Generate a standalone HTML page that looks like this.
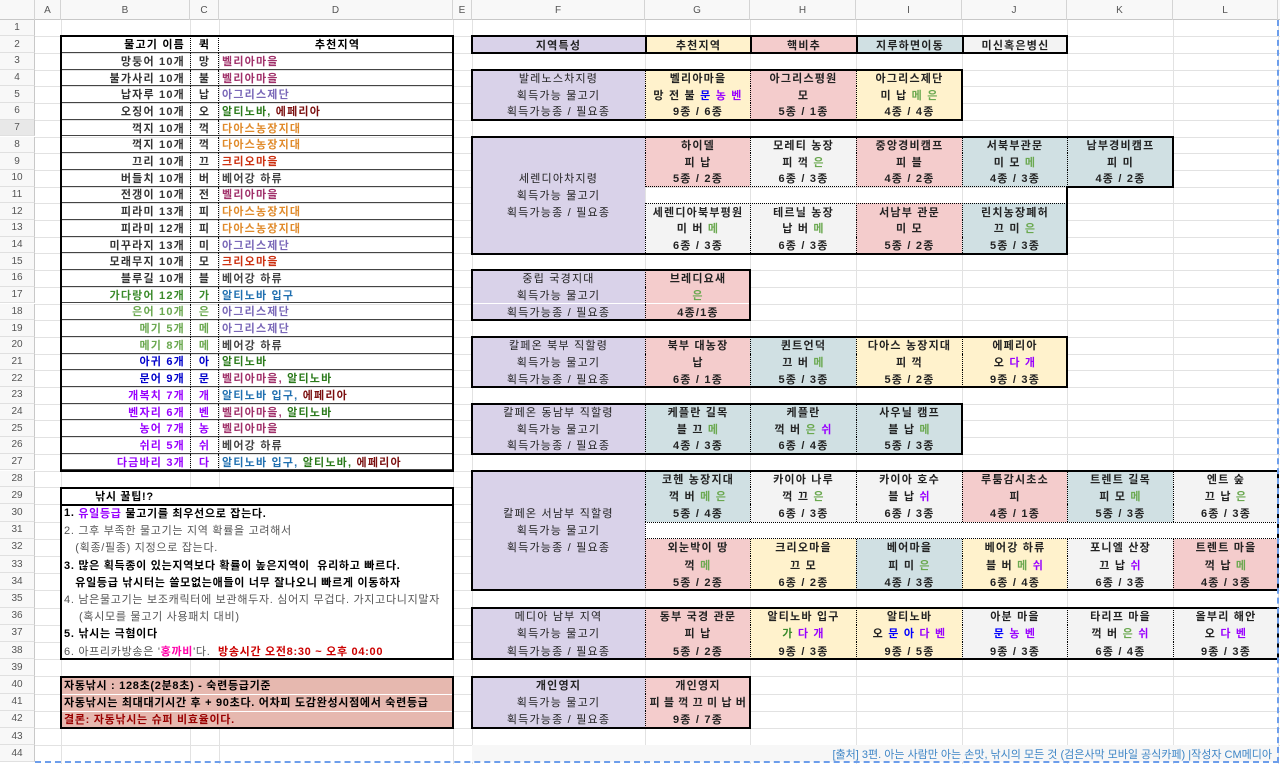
<!DOCTYPE html>
<html><head><meta charset="utf-8">
<style>
*{box-sizing:border-box;margin:0;padding:0}
body{width:1280px;height:764px;position:relative;background:#fff;overflow:hidden;font-family:"Liberation Sans","Noto Sans CJK KR",sans-serif;font-size:11px;color:#222}
div{position:absolute}
.h{left:0;top:0;width:1280px;height:20px;background:#f8f8f8;border-bottom:1px solid #c8c8c8}
.hl{top:0;height:20px;font-size:10px;color:#555;display:flex;align-items:center;justify-content:center;border-right:1px solid #d4d4d4}
.rn{left:0;width:35px;font-size:10px;color:#555;background:#f8f8f8;display:flex;align-items:center;justify-content:center;border-right:1px solid #c8c8c8;border-bottom:1px solid #e0e0e0}
.gh{left:35px;width:1245px;height:1px;background:#e2e2e2}
.gv{top:20px;width:1px;height:744px;background:#e2e2e2}
.c{display:flex;align-items:center;justify-content:center;white-space:nowrap;font-weight:bold;letter-spacing:1.2px}
.r1{top:19.6px;height:16.7px}.r2{top:36.3px;height:16.7px}.r3{top:53px;height:16.7px}.r4{top:69.7px;height:16.7px}.r5{top:86.4px;height:16.7px}.r6{top:103.1px;height:16.7px}.r7{top:119.8px;height:16.7px}.r8{top:136.5px;height:16.7px}.r9{top:153.2px;height:16.7px}.r10{top:169.9px;height:16.7px}.r11{top:186.6px;height:16.7px}.r12{top:203.3px;height:16.7px}.r13{top:220px;height:16.7px}.r14{top:236.7px;height:16.7px}.r15{top:253.4px;height:16.7px}.r16{top:270.1px;height:16.7px}.r17{top:286.8px;height:16.7px}.r18{top:303.5px;height:16.7px}.r19{top:320.2px;height:16.7px}.r20{top:336.9px;height:16.7px}.r21{top:353.6px;height:16.7px}.r22{top:370.3px;height:16.7px}.r23{top:387px;height:16.7px}.r24{top:403.7px;height:16.7px}.r25{top:420.4px;height:16.7px}.r26{top:437.1px;height:16.7px}.r27{top:453.8px;height:16.7px}.r28{top:470.5px;height:16.7px}
.r29{top:487.2px;height:17.2px}.r30{top:504.4px;height:17.2px}.r31{top:521.6px;height:17.2px}.r32{top:538.8px;height:17.2px}.r33{top:556px;height:17.2px}.r34{top:573.2px;height:17.2px}.r35{top:590.4px;height:17.2px}.r36{top:607.6px;height:17.2px}.r37{top:624.8px;height:17.2px}.r38{top:642px;height:17.2px}.r39{top:659.2px;height:17.2px}.r40{top:676.4px;height:17.2px}.r41{top:693.6px;height:17.2px}.r42{top:710.8px;height:17.2px}.r43{top:728px;height:17.2px}.r44{top:745.2px;height:17.2px}
.cB{left:61px;width:129px;justify-content:flex-end;padding-right:5px;border-bottom:1px solid #444;color:#333}
.cC{left:190px;width:29px;border-left:1px dotted #000;border-right:1px dotted #000;border-bottom:1px solid #444;color:#333}
.cD{left:219px;width:234px;justify-content:flex-start;padding-left:3px;border-bottom:1px solid #444}
.cF{left:472px;width:173px;background:#d9d2e9;font-weight:normal;color:#222}
.cG{left:645px;width:105px}.cH{left:750px;width:106px}.cI{left:856px;width:106px}.cJ{left:962px;width:105px}.cK{left:1067px;width:106px}.cL{left:1173px;width:105px}
.cG,.cH,.cI,.cJ,.cK,.cL{border-left:1px dotted #000}
.y{background:#fff2cc}.pk{background:#f4cccc}.bl{background:#d0e0e3}.gr{background:#f3f3f3}.w{background:#fff}
.bx{border:2px solid #000}
.g{color:#6aa84f}.p{color:#9900ff}.b{color:#0000ff}
.vb{color:#a0306a}.ag{color:#7a68b8}.al{color:#2a7a1a}.ep{color:#7a0e0e}.da{color:#e08a2a}.kr{color:#cc3010}.be{color:#444}.ai{color:#1f6fb0}
.gf{color:#3a8a2a}.gg{color:#6aa84f}.bb{color:#0000cc}.pp{color:#9900ff}
.t{left:64px;width:388px;display:flex;align-items:center;white-space:nowrap;font-size:11px;letter-spacing:0.7px}
.tb{font-weight:bold;color:#000}.tn{color:#555}
</style></head><body>
<div class="h"></div>
<div class="hl" style="left:0;width:35px"></div>
<div class="hl" style="left:35px;width:26px">A</div>
<div class="hl" style="left:61px;width:129px">B</div>
<div class="hl" style="left:190px;width:29px">C</div>
<div class="hl" style="left:219px;width:234px">D</div>
<div class="hl" style="left:453px;width:19px">E</div>
<div class="hl" style="left:472px;width:173px">F</div>
<div class="hl" style="left:645px;width:105px">G</div>
<div class="hl" style="left:750px;width:106px">H</div>
<div class="hl" style="left:856px;width:106px">I</div>
<div class="hl" style="left:962px;width:105px">J</div>
<div class="hl" style="left:1067px;width:106px">K</div>
<div class="hl" style="left:1173px;width:105px">L</div>
<div class="gv" style="left:61px"></div><div class="gv" style="left:190px"></div><div class="gv" style="left:219px"></div><div class="gv" style="left:453px"></div><div class="gv" style="left:472px"></div><div class="gv" style="left:645px"></div><div class="gv" style="left:750px"></div><div class="gv" style="left:856px"></div><div class="gv" style="left:962px"></div><div class="gv" style="left:1067px"></div><div class="gv" style="left:1173px"></div><div class="gv" style="left:1278px"></div>
<div class="gh" style="top:36.3px"></div><div class="gh" style="top:53px"></div><div class="gh" style="top:69.7px"></div><div class="gh" style="top:86.4px"></div><div class="gh" style="top:103.1px"></div><div class="gh" style="top:119.8px"></div><div class="gh" style="top:136.5px"></div><div class="gh" style="top:153.2px"></div><div class="gh" style="top:169.9px"></div><div class="gh" style="top:186.6px"></div><div class="gh" style="top:203.3px"></div><div class="gh" style="top:220px"></div><div class="gh" style="top:236.7px"></div><div class="gh" style="top:253.4px"></div><div class="gh" style="top:270.1px"></div><div class="gh" style="top:286.8px"></div><div class="gh" style="top:303.5px"></div><div class="gh" style="top:320.2px"></div><div class="gh" style="top:336.9px"></div><div class="gh" style="top:353.6px"></div><div class="gh" style="top:370.3px"></div><div class="gh" style="top:387px"></div><div class="gh" style="top:403.7px"></div><div class="gh" style="top:420.4px"></div><div class="gh" style="top:437.1px"></div><div class="gh" style="top:453.8px"></div><div class="gh" style="top:470.5px"></div><div class="gh" style="top:487.2px"></div><div class="gh" style="top:504.4px"></div><div class="gh" style="top:521.6px"></div><div class="gh" style="top:538.8px"></div><div class="gh" style="top:556px"></div><div class="gh" style="top:573.2px"></div><div class="gh" style="top:590.4px"></div><div class="gh" style="top:607.6px"></div><div class="gh" style="top:624.8px"></div><div class="gh" style="top:642px"></div><div class="gh" style="top:659.2px"></div><div class="gh" style="top:676.4px"></div><div class="gh" style="top:693.6px"></div><div class="gh" style="top:710.8px"></div><div class="gh" style="top:728px"></div><div class="gh" style="top:745.2px"></div>
<div class="rn r1">1</div><div class="rn r2">2</div><div class="rn r3">3</div><div class="rn r4">4</div><div class="rn r5">5</div><div class="rn r6">6</div><div class="rn r7" style="background:#e8e8e8">7</div><div class="rn r8">8</div><div class="rn r9">9</div><div class="rn r10">10</div><div class="rn r11">11</div><div class="rn r12">12</div><div class="rn r13">13</div><div class="rn r14">14</div><div class="rn r15">15</div><div class="rn r16">16</div><div class="rn r17">17</div><div class="rn r18">18</div><div class="rn r19">19</div><div class="rn r20">20</div><div class="rn r21">21</div><div class="rn r22">22</div><div class="rn r23">23</div><div class="rn r24">24</div><div class="rn r25">25</div><div class="rn r26">26</div><div class="rn r27">27</div><div class="rn r28">28</div><div class="rn r29">29</div><div class="rn r30">30</div><div class="rn r31">31</div><div class="rn r32">32</div><div class="rn r33">33</div><div class="rn r34">34</div><div class="rn r35">35</div><div class="rn r36">36</div><div class="rn r37">37</div><div class="rn r38">38</div><div class="rn r39">39</div><div class="rn r40">40</div><div class="rn r41">41</div><div class="rn r42">42</div><div class="rn r43">43</div><div class="rn r44">44</div>

<div class="c r2" style="left:61px;width:392px;background:#fff;border-bottom:1px solid #444"></div>
<div class="c cB r2" style="color:#000">물고기 이름</div><div class="c cC r2" style="color:#000">퀵</div><div class="c cD r2" style="justify-content:center;color:#000">추천지역</div>
<div class="c cB r3">망둥어 10개</div><div class="c cC r3">망</div><div class="c cD r3 vb">벨리아마을</div>
<div class="c cB r4">불가사리 10개</div><div class="c cC r4">불</div><div class="c cD r4 vb">벨리아마을</div>
<div class="c cB r5">납자루 10개</div><div class="c cC r5">납</div><div class="c cD r5 ag">아그리스제단</div>
<div class="c cB r6">오징어 10개</div><div class="c cC r6">오</div><div class="c cD r6"><span class="al">알티노바,&nbsp;</span><span class="ep">에페리아</span></div>
<div class="c cB r7">꺽지 10개</div><div class="c cC r7">꺽</div><div class="c cD r7 da">다아스농장지대</div>
<div class="c cB r8">꺽지 10개</div><div class="c cC r8">꺽</div><div class="c cD r8 da">다아스농장지대</div>
<div class="c cB r9">끄리 10개</div><div class="c cC r9">끄</div><div class="c cD r9 kr">크리오마을</div>
<div class="c cB r10">버들치 10개</div><div class="c cC r10">버</div><div class="c cD r10 be">베어강 하류</div>
<div class="c cB r11">전갱이 10개</div><div class="c cC r11">전</div><div class="c cD r11 vb">벨리아마을</div>
<div class="c cB r12">피라미 13개</div><div class="c cC r12">피</div><div class="c cD r12 da">다아스농장지대</div>
<div class="c cB r13">피라미 12개</div><div class="c cC r13">피</div><div class="c cD r13 da">다아스농장지대</div>
<div class="c cB r14">미꾸라지 13개</div><div class="c cC r14">미</div><div class="c cD r14 ag">아그리스제단</div>
<div class="c cB r15">모래무지 10개</div><div class="c cC r15">모</div><div class="c cD r15 kr">크리오마을</div>
<div class="c cB r16">블루길 10개</div><div class="c cC r16">블</div><div class="c cD r16 be">베어강 하류</div>
<div class="c cB r17 gf">가다랑어 12개</div><div class="c cC r17 gf">가</div><div class="c cD r17 ai">알티노바 입구</div>
<div class="c cB r18 gg">은어 10개</div><div class="c cC r18 gg">은</div><div class="c cD r18 ag">아그리스제단</div>
<div class="c cB r19 gg">메기 5개</div><div class="c cC r19 gg">메</div><div class="c cD r19 ag">아그리스제단</div>
<div class="c cB r20 gg">메기 8개</div><div class="c cC r20 gg">메</div><div class="c cD r20 be">베어강 하류</div>
<div class="c cB r21 bb">아귀 6개</div><div class="c cC r21 bb">아</div><div class="c cD r21 al">알티노바</div>
<div class="c cB r22 bb">문어 9개</div><div class="c cC r22 bb">문</div><div class="c cD r22"><span class="vb">벨리아마을,&nbsp;</span><span class="al">알티노바</span></div>
<div class="c cB r23 pp">개복치 7개</div><div class="c cC r23 pp">개</div><div class="c cD r23"><span class="ai">알티노바 입구,&nbsp;</span><span class="ep">에페리아</span></div>
<div class="c cB r24 pp">벤자리 6개</div><div class="c cC r24 pp">벤</div><div class="c cD r24"><span class="vb">벨리아마을,&nbsp;</span><span class="al">알티노바</span></div>
<div class="c cB r25 pp">농어 7개</div><div class="c cC r25 pp">농</div><div class="c cD r25 vb">벨리아마을</div>
<div class="c cB r26 pp">쉬리 5개</div><div class="c cC r26 pp">쉬</div><div class="c cD r26 be">베어강 하류</div>
<div class="c cB r27 pp">다금바리 3개</div><div class="c cC r27 pp">다</div><div class="c cD r27"><span class="ai">알티노바 입구,&nbsp;</span><span class="al">알티노바,&nbsp;</span><span class="ep">에페리아</span></div>
<div class="bx" style="left:60px;top:35px;width:394px;height:437px"></div>

<div class="bx" style="left:60px;top:487px;width:394px;height:19px;background:#fff"></div>
<div class="t r29 tb" style="left:95px">낚시 꿀팁!?</div>
<div class="bx" style="left:60px;top:504px;width:394px;height:156px;background:#fff"></div>
<div class="t r30 tb">1.&nbsp;<span class="pp">유일등급</span>&nbsp;물고기를 최우선으로 잡는다.</div>
<div class="t r31 tn">2. 그후 부족한 물고기는 지역 확률을 고려해서</div>
<div class="t r32 tn">&nbsp;&nbsp;&nbsp;(획종/필종) 지정으로 잡는다.</div>
<div class="t r33 tb">3. 많은 획득종이 있는지역보다 확률이 높은지역이&nbsp; 유리하고 빠르다.</div>
<div class="t r34 tb">&nbsp;&nbsp;&nbsp;유일등급 낚시터는 쓸모없는애들이 너무 잘나오니 빠르게 이동하자</div>
<div class="t r35 tn">4. 남은물고기는 보조캐릭터에 보관해두자. 심어지 무겁다. 가지고다니지말자</div>
<div class="t r36 tn">&nbsp;&nbsp;&nbsp;&nbsp;(혹시모를 물고기 사용패치 대비)</div>
<div class="t r37 tb">5. 낚시는 극혐이다</div>
<div class="t r38 tn">6. 아프리카방송은 '<b style="color:#ff00aa">홍까비</b>'다.&nbsp;&nbsp;<b style="color:#cc0000">방송시간 오전8:30 ~ 오후 04:00</b></div>
<div class="bx" style="left:60px;top:676px;width:394px;height:53px;background:#e6b8af"></div>
<div style="left:62px;top:693.6px;width:390px;height:1px;background:#fff"></div>
<div style="left:62px;top:710.8px;width:390px;height:1px;background:#fff"></div>
<div class="t r40 tb">자동낚시 : 128초(2분8초) - 숙련등급기준</div>
<div class="t r41 tb">자동낚시는 최대대기시간 후 + 90초다. 어차피 도감완성시점에서 숙련등급</div>
<div class="t r42 tb" style="color:#990000">결론: 자동낚시는 슈퍼 비효율이다.</div>

<div class="c cF r2" style="font-weight:bold">지역특성</div>
<div class="c cG r2 y" style="border-left:2px solid #000">추천지역</div>
<div class="c cH r2 pk" style="border-left:2px solid #000">핵비추</div>
<div class="c cI r2 bl" style="border-left:2px solid #000">지루하면이동</div>
<div class="c cJ r2 gr" style="border-left:2px solid #000">미신혹은병신</div>
<div class="bx" style="left:471px;top:35px;width:597px;height:19px"></div>

<div class="c cF r4">발레노스차지령</div><div class="c cF r5">획득가능 물고기</div><div class="c cF r6">획득가능종 / 필요종</div>
<div class="c cG r4 y">벨리아마을</div><div class="c cG r5 y">망 전 불 <span class="b">&nbsp;문&nbsp;</span><span class="p">농 벤</span></div><div class="c cG r6 y">9종 / 6종</div>
<div class="c cH r4 pk">아그리스평원</div><div class="c cH r5 pk">모</div><div class="c cH r6 pk">5종 / 1종</div>
<div class="c cI r4 y">아그리스제단</div><div class="c cI r5 y">미 납&nbsp;<span class="g">메 은</span></div><div class="c cI r6 y">4종 / 4종</div>
<div class="bx" style="left:471px;top:69px;width:492px;height:52px"></div>

<div class="c cF r8"></div><div class="c cF r9"></div><div class="c cF r10">세렌디아차지령</div><div class="c cF r11">획득가능 물고기</div><div class="c cF r12">획득가능종 / 필요종</div><div class="c cF r13"></div><div class="c cF r14"></div>
<div class="c cG r8 pk">하이델</div><div class="c cG r9 pk">피 납</div><div class="c cG r10 pk">5종 / 2종</div>
<div class="c cH r8 gr">모레티 농장</div><div class="c cH r9 gr">피 꺽&nbsp;<span class="g">은</span></div><div class="c cH r10 gr">6종 / 3종</div>
<div class="c cI r8 pk">중앙경비캠프</div><div class="c cI r9 pk">피 블</div><div class="c cI r10 pk">4종 / 2종</div>
<div class="c cJ r8 bl">서북부관문</div><div class="c cJ r9 bl">미 모&nbsp;<span class="g">메</span></div><div class="c cJ r10 bl">4종 / 3종</div>
<div class="c cK r8 bl">남부경비캠프</div><div class="c cK r9 bl">피 미</div><div class="c cK r10 bl">4종 / 2종</div>
<div class="c cG r12 gr">세렌디아북부평원</div><div class="c cG r13 gr">미 버&nbsp;<span class="g">메</span></div><div class="c cG r14 gr">6종 / 3종</div>
<div class="c cH r12 gr">테르닐 농장</div><div class="c cH r13 gr">납 버&nbsp;<span class="g">메</span></div><div class="c cH r14 gr">6종 / 3종</div>
<div class="c cI r12 pk">서남부 관문</div><div class="c cI r13 pk">미 모</div><div class="c cI r14 pk">5종 / 2종</div>
<div class="c cJ r12 bl">린치농장폐허</div><div class="c cJ r13 bl">끄 미&nbsp;<span class="g">은</span></div><div class="c cJ r14 bl">5종 / 3종</div>
<div style="left:645px;top:186px;width:422px;height:1px;border-top:1px dotted #000"></div>
<div style="left:645px;top:203px;width:422px;height:1px;border-top:1px dotted #000"></div>
<div style="left:471px;top:135.5px;width:703px;height:2px;background:#000"></div>
<div style="left:1172px;top:135.5px;width:2px;height:52px;background:#000"></div>
<div style="left:1067px;top:186px;width:107px;height:2px;background:#000"></div>
<div style="left:1066px;top:186px;width:2px;height:69px;background:#000"></div>
<div style="left:471px;top:253px;width:597px;height:2px;background:#000"></div>
<div style="left:471px;top:135.5px;width:2px;height:119px;background:#000"></div>

<div class="c cF r16">중립 국경지대</div><div class="c cF r17">획득가능 물고기</div><div class="c cF r18">획득가능종 / 필요종</div>
<div class="c cG r16 pk">브레디요새</div><div class="c cG r17 pk g">은</div><div class="c cG r18 pk">4종/1종</div>
<div class="bx" style="left:471px;top:269px;width:280px;height:52px"></div>

<div class="c cF r20">칼페온 북부 직할령</div><div class="c cF r21">획득가능 물고기</div><div class="c cF r22">획득가능종 / 필요종</div>
<div class="c cG r20 pk">북부 대농장</div><div class="c cG r21 pk">납</div><div class="c cG r22 pk">6종 / 1종</div>
<div class="c cH r20 bl">퀸트언덕</div><div class="c cH r21 bl">끄 버&nbsp;<span class="g">메</span></div><div class="c cH r22 bl">5종 / 3종</div>
<div class="c cI r20 y">다아스 농장지대</div><div class="c cI r21 y">피 꺽</div><div class="c cI r22 y">5종 / 2종</div>
<div class="c cJ r20 y">에페리아</div><div class="c cJ r21 y">오&nbsp;<span class="p">다 개</span></div><div class="c cJ r22 y">9종 / 3종</div>
<div class="bx" style="left:471px;top:336px;width:597px;height:52px"></div>

<div class="c cF r24">칼페온 동남부 직할령</div><div class="c cF r25">획득가능 물고기</div><div class="c cF r26">획득가능종 / 필요종</div>
<div class="c cG r24 bl">케플란 길목</div><div class="c cG r25 bl">블 끄&nbsp;<span class="g">메</span></div><div class="c cG r26 bl">4종 / 3종</div>
<div class="c cH r24 bl">케플란</div><div class="c cH r25 bl">꺽 버&nbsp;<span class="g">은</span>&nbsp;<span class="p">쉬</span></div><div class="c cH r26 bl">6종 / 4종</div>
<div class="c cI r24 bl">사우닐 캠프</div><div class="c cI r25 bl">블 납&nbsp;<span class="g">메</span></div><div class="c cI r26 bl">5종 / 3종</div>
<div class="bx" style="left:471px;top:403px;width:492px;height:52px"></div>

<div class="c cF r28"></div><div class="c cF r29"></div><div class="c cF r30">칼페온 서남부 직할령</div><div class="c cF r31">획득가능 물고기</div><div class="c cF r32">획득가능종 / 필요종</div><div class="c cF r33"></div><div class="c cF r34"></div>
<div class="c cG r28 bl">코헨 농장지대</div><div class="c cG r29 bl">꺽 버&nbsp;<span class="g">메 은</span></div><div class="c cG r30 bl">5종 / 4종</div>
<div class="c cH r28 gr">카이아 나루</div><div class="c cH r29 gr">꺽 끄&nbsp;<span class="g">은</span></div><div class="c cH r30 gr">6종 / 3종</div>
<div class="c cI r28 gr">카이아 호수</div><div class="c cI r29 gr">블 납&nbsp;<span class="p">쉬</span></div><div class="c cI r30 gr">6종 / 3종</div>
<div class="c cJ r28 pk">루툼감시초소</div><div class="c cJ r29 pk">피</div><div class="c cJ r30 pk">4종 / 1종</div>
<div class="c cK r28 bl">트렌트 길목</div><div class="c cK r29 bl">피 모&nbsp;<span class="g">메</span></div><div class="c cK r30 bl">5종 / 3종</div>
<div class="c cL r28 gr">엔트 숲</div><div class="c cL r29 gr">끄 납&nbsp;<span class="g">은</span></div><div class="c cL r30 gr">6종 / 3종</div>
<div class="c cG r32 pk">외눈박이 땅</div><div class="c cG r33 pk">꺽&nbsp;<span class="g">메</span></div><div class="c cG r34 pk">5종 / 2종</div>
<div class="c cH r32 y">크리오마을</div><div class="c cH r33 y">끄 모</div><div class="c cH r34 y">6종 / 2종</div>
<div class="c cI r32 bl">베어마을</div><div class="c cI r33 bl">피 미&nbsp;<span class="g">은</span></div><div class="c cI r34 bl">4종 / 3종</div>
<div class="c cJ r32 y">베어강 하류</div><div class="c cJ r33 y">블 버&nbsp;<span class="g">메</span>&nbsp;<span class="p">쉬</span></div><div class="c cJ r34 y">6종 / 4종</div>
<div class="c cK r32 gr">포니엘 산장</div><div class="c cK r33 gr">끄 납&nbsp;<span class="p">쉬</span></div><div class="c cK r34 gr">6종 / 3종</div>
<div class="c cL r32 pk">트렌트 마을</div><div class="c cL r33 pk">꺽 납&nbsp;<span class="g">메</span></div><div class="c cL r34 pk">4종 / 3종</div>
<div class="c r31" style="left:645px;width:633px;background:#fff;border-top:1px dotted #000;border-bottom:1px dotted #000;border-left:1px dotted #000"></div>
<div class="bx" style="left:471px;top:470px;width:808px;height:121px"></div>

<div class="c cF r36">메디아 남부 지역</div><div class="c cF r37">획득가능 물고기</div><div class="c cF r38">획득가능종 / 필요종</div>
<div class="c cG r36 pk">동부 국경 관문</div><div class="c cG r37 pk">피 납</div><div class="c cG r38 pk">5종 / 2종</div>
<div class="c cH r36 y">알티노바 입구</div><div class="c cH r37 y"><span class="gf">가</span>&nbsp;<span class="p">다 개</span></div><div class="c cH r38 y">9종 / 3종</div>
<div class="c cI r36 y">알티노바</div><div class="c cI r37 y">오&nbsp;<span class="b">문 아</span>&nbsp;<span class="p">다 벤</span></div><div class="c cI r38 y">9종 / 5종</div>
<div class="c cJ r36 gr">아분 마을</div><div class="c cJ r37 gr"><span class="b">문</span>&nbsp;<span class="p">농 벤</span></div><div class="c cJ r38 gr">9종 / 3종</div>
<div class="c cK r36 gr">타리프 마을</div><div class="c cK r37 gr">꺽 버&nbsp;<span class="g">은</span>&nbsp;<span class="p">쉬</span></div><div class="c cK r38 gr">6종 / 4종</div>
<div class="c cL r36 gr">올부리 해안</div><div class="c cL r37 gr">오&nbsp;<span class="p">다 벤</span></div><div class="c cL r38 gr">9종 / 3종</div>
<div class="bx" style="left:471px;top:607px;width:808px;height:53px"></div>

<div class="c cF r40" style="font-weight:bold">개인영지</div><div class="c cF r41">획득가능 물고기</div><div class="c cF r42">획득가능종 / 필요종</div>
<div class="c cG r40 pk">개인영지</div><div class="c cG r41 pk" style="letter-spacing:0.6px">피 블 꺽 끄 미 납 버</div><div class="c cG r42 pk">9종 / 7종</div>
<div class="bx" style="left:471px;top:676px;width:280px;height:53px"></div>

<div class="r44" style="left:472px;width:806px;background:#f7f7f7"></div>
<div class="r44" style="left:472px;width:800px;display:flex;align-items:center;justify-content:flex-end;white-space:nowrap;color:#3d85c6;font-size:11px">[출처] 3편. 아는 사람만 아는 손맛, 낚시의 모든 것 (검은사막 모바일 공식카페) |작성자 CM메디아</div>
<div style="left:35px;top:761px;width:1244px;height:2px;border-top:2px dashed #6d9eeb"></div>
<div style="left:1277px;top:20px;width:2px;height:743px;border-left:2px dashed #6d9eeb"></div>
</body></html>
